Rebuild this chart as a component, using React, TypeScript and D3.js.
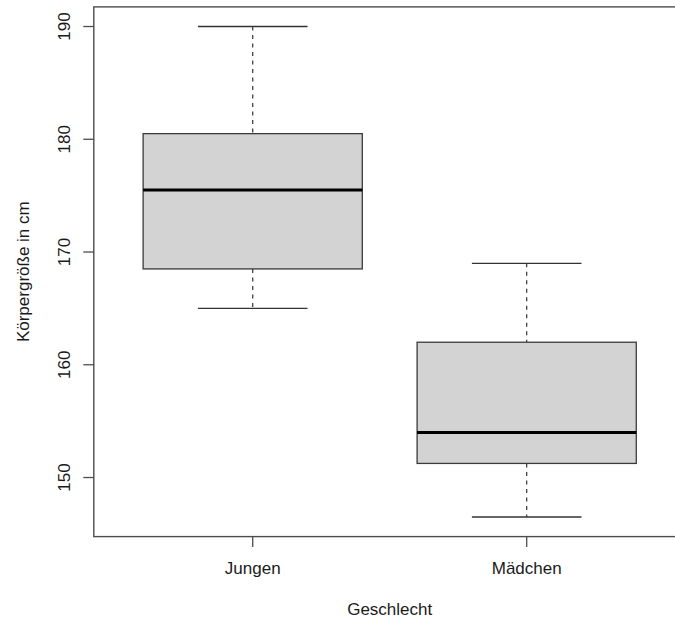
import React from "react";
import * as d3 from "d3";

const categories = ["Jungen", "Mädchen"];
const whiskerLow = [165, 146.5];
const q1 = [168.5, 151.25];
const median = [175.5, 154];
const q3 = [180.5, 162];
const whiskerHigh = [190, 169];
const yTicks = [150, 160, 170, 180, 190];

const W = 675;
const H = 621;

export default function App() {
  const x = d3.scaleLinear().domain([0.42, 2.58]).range([93.8, 685.6]);
  const y = d3.scaleLinear().domain([144.76, 191.74]).range([536.6, 6.9]);
  const unit = x(2) - x(1);
  const boxW = unit * 0.8;
  const capW = boxW * 0.5;
  const font = "'Liberation Sans', Arial, Helvetica, sans-serif";
  const frameColor = "#4d4d4d";
  const x0 = x.range()[0];
  const x1 = x.range()[1];
  const y0 = y.range()[0];
  const y1 = y.range()[1];

  return (
    <svg
      width={W}
      height={H}
      style={{ position: "absolute", left: 0, top: 0, background: "#fff" }}
      fontFamily={font}
    >
      <rect x={0} y={0} width={W} height={H} fill="#fff" />
      {categories.map((c, i) => {
        const cx = x(i + 1);
        return (
          <g key={c}>
            <line x1={cx} x2={cx} y1={y(whiskerHigh[i])} y2={y(q3[i])} stroke="#333" strokeWidth={1.2} strokeDasharray="4,4.5" />
            <line x1={cx} x2={cx} y1={y(q1[i])} y2={y(whiskerLow[i])} stroke="#333" strokeWidth={1.2} strokeDasharray="4,4.5" />
            <line x1={cx - capW / 2} x2={cx + capW / 2} y1={y(whiskerHigh[i])} y2={y(whiskerHigh[i])} stroke="#333" strokeWidth={1.3} />
            <line x1={cx - capW / 2} x2={cx + capW / 2} y1={y(whiskerLow[i])} y2={y(whiskerLow[i])} stroke="#333" strokeWidth={1.3} />
            <rect x={cx - boxW / 2} y={y(q3[i])} width={boxW} height={y(q1[i]) - y(q3[i])} fill="#d3d3d3" stroke="#3a3a3a" strokeWidth={1.3} />
            <line x1={cx - boxW / 2} x2={cx + boxW / 2} y1={y(median[i])} y2={y(median[i])} stroke="#000" strokeWidth={3} />
          </g>
        );
      })}
      <rect x={x0} y={y1} width={x1 - x0} height={y0 - y1} fill="none" stroke={frameColor} strokeWidth={1.4} />
      {yTicks.map((t) => (
        <g key={t}>
          <line x1={x0 - 10.5} x2={x0} y1={y(t)} y2={y(t)} stroke={frameColor} strokeWidth={1.3} />
          <text transform={`translate(70,${y(t)}) rotate(-90)`} textAnchor="middle" fontSize={17} fill="#1a1a1a">
            {t}
          </text>
        </g>
      ))}
      {categories.map((c, i) => (
        <g key={c}>
          <line x1={x(i + 1)} x2={x(i + 1)} y1={y0} y2={y0 + 10.5} stroke={frameColor} strokeWidth={1.3} />
          <text x={x(i + 1)} y={574} textAnchor="middle" fontSize={17} fill="#1a1a1a">
            {c}
          </text>
        </g>
      ))}
      <text x={389.7} y={615} textAnchor="middle" fontSize={17} fill="#1a1a1a">
        Geschlecht
      </text>
      <text transform={`translate(29,271.7) rotate(-90)`} textAnchor="middle" fontSize={17} fill="#1a1a1a">
        Körpergröße in cm
      </text>
    </svg>
  );
}
